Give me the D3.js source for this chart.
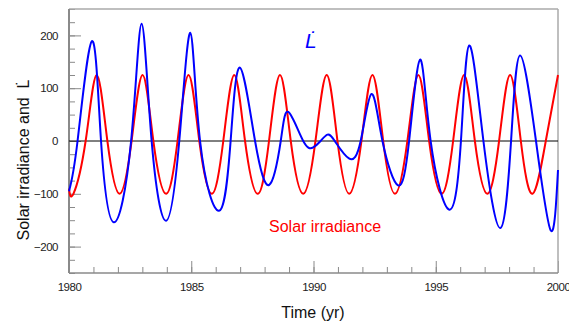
<!DOCTYPE html>
<html>
<head>
<meta charset="utf-8">
<script src="https://cdn.jsdelivr.net/npm/d3@7"></script>
<style>
  html, body { margin: 0; padding: 0; background: #fff; }
  svg { display: block; font-family: "Liberation Sans", Arial, sans-serif; }
</style>
</head>
<body>
<svg id="chart" width="569" height="322"></svg>
<script>
// ---- data ----
const redYears  = [1980.00,1980.18,1980.68,1981.13,1981.57,1982.07,1982.56,1983.01,1983.45,1983.97,1984.44,1984.89,1985.33,1985.84,1986.31,1986.76,1987.20,1987.72,1988.18,1988.63,1989.07,1989.58,1990.08,1990.54,1990.98,1991.46,1991.96,1992.41,1992.85,1993.33,1993.84,1994.29,1994.73,1995.24,1995.71,1996.16,1996.60,1997.11,1997.59,1998.04,1998.48,1998.96,1999.50,2000.00];
const redValues = [-90,-100,0,125,0,-100,0,125,0,-100,0,125,0,-100,0,125,0,-100,0,125,0,-100,0,125,0,-100,0,125,0,-100,0,125,0,-100,0,125,0,-100,0,125,0,-100,0,125];

const blueYears  = [1980.00,1980.35,1980.94,1981.31,1981.83,1982.54,1982.97,1983.38,1983.97,1984.51,1984.96,1985.36,1986.15,1986.61,1986.99,1987.61,1988.19,1988.66,1988.97,1989.58,1989.99,1990.29,1990.57,1990.87,1991.45,1991.93,1992.37,1992.82,1993.46,1993.91,1994.36,1994.79,1995.56,1996.03,1996.37,1996.95,1997.64,1998.08,1998.45,1999.10,1999.71,2000.00];
const blueValues = [-95,0,189,0,-154,0,222,0,-151,0,205,0,-132,0,139,0,-83,0,55,0,-12,0,12,0,-33,0,89,0,-84,0,154,0,-130,0,181,0,-165,0,162,0,-170,-55];

const xMajorTicks = [1980,1985,1990,1995,2000];
const xMinorTicks = d3.range(1980, 2001, 1);
const yMajorTicks = [-200,-100,0,100,200];
const yMinorTicks = d3.range(-250, 251, 25);

const yTitle = "Solar irradiance and \u00a0L\u0307";
const xTitle = "Time (yr)";
const blueLabel = "L\u0307";
const redLabel = "Solar irradiance";

// ---- layout ----
const svg = d3.select("#chart");
const L = 69, R = 558, T = 9, B = 273;
const x = d3.scaleLinear().domain([1980, 2000]).range([L, R]);
const y = d3.scaleLinear().domain([-250, 250]).range([B, T]);
const axisColor = "#8a8a8a";

// minor ticks
svg.append("g").attr("transform", `translate(${L},0)`)
  .call(d3.axisLeft(y).tickValues(yMinorTicks).tickSize(-6).tickSizeOuter(0).tickFormat(""))
  .call(g => g.select(".domain").remove())
  .call(g => g.selectAll("line").attr("stroke", axisColor));
svg.append("g").attr("transform", `translate(0,${B})`)
  .call(d3.axisBottom(x).tickValues(xMinorTicks).tickSize(-6).tickSizeOuter(0).tickFormat(""))
  .call(g => g.select(".domain").remove())
  .call(g => g.selectAll("line").attr("stroke", axisColor));

// major ticks + labels
svg.append("g").attr("transform", `translate(${L},0)`)
  .call(d3.axisLeft(y).tickValues(yMajorTicks).tickSize(-12).tickSizeOuter(0).tickPadding(11).tickFormat(d3.format("d")))
  .call(g => g.select(".domain").remove())
  .call(g => g.selectAll("line").attr("stroke", axisColor))
  .call(g => g.selectAll("text").attr("font-size", 11.5).attr("fill", "#222")
     .attr("font-family", "Liberation Sans, Arial, sans-serif").attr("letter-spacing", -0.5));
svg.append("g").attr("transform", `translate(0,${B})`)
  .call(d3.axisBottom(x).tickValues(xMajorTicks).tickSize(-12).tickSizeOuter(0).tickPadding(10).tickFormat(d3.format("d")))
  .call(g => g.select(".domain").remove())
  .call(g => g.selectAll("line").attr("stroke", axisColor))
  .call(g => g.selectAll("text").attr("font-size", 11.5).attr("fill", "#222")
     .attr("font-family", "Liberation Sans, Arial, sans-serif").attr("letter-spacing", -0.5));

// frame
svg.append("line").attr("x1", L).attr("x2", R).attr("y1", T).attr("y2", T).attr("stroke", "#aaa").attr("stroke-width", 1.5);
svg.append("line").attr("x1", R).attr("x2", R).attr("y1", T).attr("y2", B).attr("stroke", "#aaa").attr("stroke-width", 1.5);
svg.append("line").attr("x1", L).attr("x2", L).attr("y1", T).attr("y2", B).attr("stroke", axisColor).attr("stroke-width", 2);
svg.append("line").attr("x1", L).attr("x2", R).attr("y1", B).attr("y2", B).attr("stroke", axisColor).attr("stroke-width", 1.5);

// zero line
svg.append("line").attr("x1", x(1980)).attr("x2", x(2000)).attr("y1", y(0)).attr("y2", y(0))
  .attr("stroke", "#000").attr("stroke-width", 1);

// curves
const line = d3.line().x(d => x(d[0])).y(d => y(d[1])).curve(d3.curveNatural);
const redData = redYears.map((t, i) => [t, redValues[i]]);
const blueData = blueYears.map((t, i) => [t, blueValues[i]]);
svg.append("path").datum(redData).attr("d", line).attr("fill", "none").attr("stroke", "#ff0000").attr("stroke-width", 2);
svg.append("path").datum(blueData).attr("d", line).attr("fill", "none").attr("stroke", "#0000ff").attr("stroke-width", 2);

// titles
svg.append("text").attr("x", 313).attr("y", 318).attr("text-anchor", "middle")
  .attr("font-size", 16).attr("fill", "#111").text(xTitle);
svg.append("text").attr("transform", "translate(29,160) rotate(-90)").attr("text-anchor", "middle")
  .attr("font-size", 16).attr("fill", "#111").text(yTitle);

// in-plot labels
svg.append("text").attr("x", 305).attr("y", 48).attr("font-size", 21).attr("font-style", "italic")
  .attr("fill", "#0000ff").text(blueLabel);
svg.append("text").attr("x", 269).attr("y", 232).attr("font-size", 16)
  .attr("fill", "#ff0000").text(redLabel);
</script>
</body>
</html>
